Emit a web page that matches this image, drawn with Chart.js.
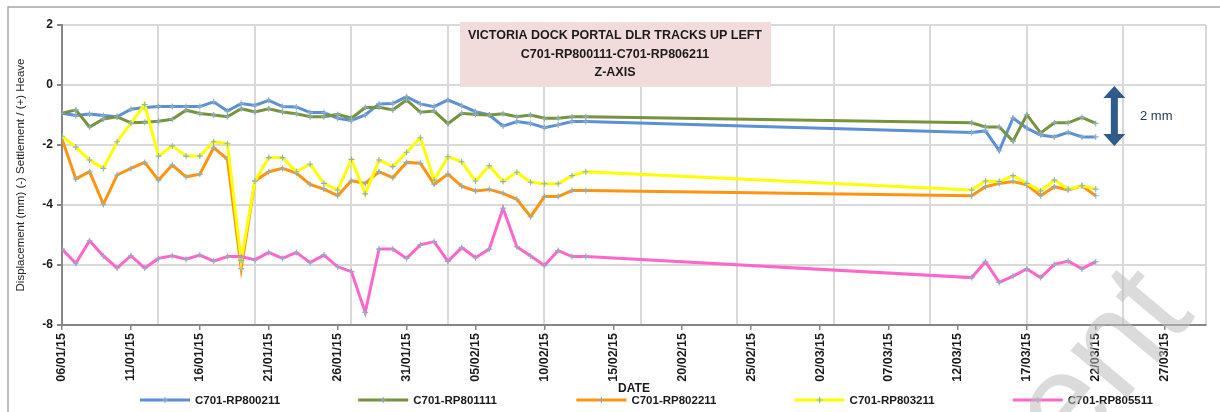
<!DOCTYPE html>
<html>
<head>
<meta charset="utf-8">
<script src="https://cdn.jsdelivr.net/npm/chart.js@4.4.1/dist/chart.umd.min.js"></script>
<style>
html, body { margin: 0; padding: 0; background: #fff; }
#wrap { width: 1220px; height: 412px; }
</style>
</head>
<body>
<div id="wrap"><canvas id="chart" width="1220" height="412"></canvas></div>
<script>
// survey dates (dd/mm/yy)
const dates = [
    '06/01/15', '07/01/15', '08/01/15', '09/01/15', '10/01/15', '11/01/15', '12/01/15', '13/01/15',
    '14/01/15', '15/01/15', '16/01/15', '17/01/15', '18/01/15', '19/01/15', '20/01/15', '21/01/15',
    '22/01/15', '23/01/15', '24/01/15', '25/01/15', '26/01/15', '27/01/15', '28/01/15', '29/01/15',
    '30/01/15', '31/01/15', '01/02/15', '02/02/15', '03/02/15', '04/02/15', '05/02/15', '06/02/15',
    '07/02/15', '08/02/15', '09/02/15', '10/02/15', '11/02/15', '12/02/15', '13/02/15',
    '13/03/15', '14/03/15', '15/03/15', '16/03/15', '17/03/15', '18/03/15', '19/03/15', '20/03/15',
    '21/03/15', '22/03/15',
];

const seriesNames = ['C701-RP800211', 'C701-RP801111', 'C701-RP802211', 'C701-RP803211', 'C701-RP805511'];
const seriesColors = ['#5b8fd6', '#77933c', '#ff9410', '#ffff00', '#ff66cc'];

const rp800211 = [
    -0.94, -1.02, -0.97, -1.02, -1.06, -0.81, -0.75, -0.72, -0.72, -0.72, -0.72, -0.56, -0.87,
    -0.62, -0.68, -0.51, -0.72, -0.73, -0.92, -0.92, -1.11, -1.18, -1.0, -0.63, -0.62, -0.39,
    -0.63, -0.72, -0.5, -0.69, -0.89, -1.0, -1.37, -1.22, -1.28, -1.42, -1.33, -1.22, -1.22,
    -1.58, -1.53, -2.19, -1.1, -1.44, -1.67, -1.73, -1.58, -1.73, -1.73,
];
const rp801111 = [
    -0.94, -0.83, -1.4, -1.13, -1.06, -1.26, -1.24, -1.21, -1.14, -0.84, -0.95, -1.0, -1.06,
    -0.79, -0.9, -0.79, -0.9, -0.96, -1.06, -1.06, -0.98, -1.11, -0.75, -0.74, -0.83, -0.5,
    -0.91, -0.87, -1.29, -0.94, -0.98, -1.0, -0.96, -1.06, -1.0, -1.11, -1.11, -1.06, -1.06,
    -1.26, -1.4, -1.4, -1.87, -0.99, -1.6, -1.26, -1.26, -1.08, -1.28,
];
const rp802211 = [
    -1.8, -3.13, -2.89, -3.97, -3.0, -2.78, -2.58, -3.17, -2.67, -3.06, -2.97, -2.09, -2.47,
    -6.12, -3.2, -2.89, -2.78, -2.94, -3.31, -3.47, -3.69, -3.19, -3.28, -2.89, -3.09, -2.58,
    -2.61, -3.31, -2.97, -3.37, -3.53, -3.48, -3.61, -3.81, -4.39, -3.72, -3.72, -3.52, -3.52,
    -3.69, -3.39, -3.28, -3.22, -3.33, -3.69, -3.39, -3.5, -3.36, -3.69,
];
const rp803211 = [
    -1.71, -2.07, -2.5, -2.78, -1.89, -1.27, -0.65, -2.37, -2.03, -2.37, -2.37, -1.89, -1.96,
    -5.85, -3.2, -2.42, -2.42, -2.89, -2.64, -3.28, -3.5, -2.48, -3.63, -2.5, -2.72, -2.24,
    -1.76, -3.17, -2.39, -2.56, -3.2, -2.69, -3.22, -2.91, -3.24, -3.29, -3.29, -3.02, -2.89,
    -3.5, -3.2, -3.22, -3.02, -3.28, -3.53, -3.17, -3.47, -3.36, -3.47,
];
const rp805511 = [
    -5.47, -5.94, -5.19, -5.7, -6.1, -5.69, -6.1, -5.78, -5.69, -5.81, -5.67, -5.87, -5.72,
    -5.72, -5.83, -5.58, -5.78, -5.58, -5.92, -5.67, -6.06, -6.22, -7.58, -5.47, -5.47, -5.78,
    -5.33, -5.22, -5.88, -5.42, -5.76, -5.47, -4.11, -5.39, -5.7, -6.02, -5.52, -5.72, -5.72,
    -6.42, -5.89, -6.58, -6.37, -6.13, -6.42, -5.98, -5.87, -6.13, -5.89,
];
const seriesValues = [rp800211, rp801111, rp802211, rp803211, rp805511];

const yTicks = [-8, -6, -4, -2, 0, 2];
const axisStart = '06/01/15';
const axisEnd = '30/03/15';
const labelEvery = 5;   // days between date labels
const gridEvery = 7;    // days between vertical gridlines

const titleLines = ['VICTORIA DOCK PORTAL DLR TRACKS UP LEFT', 'C701-RP800111-C701-RP806211', 'Z-AXIS'];
const yTitle = 'Displacement (mm) (-) Settlement / (+) Heave';
const xTitle = 'DATE';
const arrowLabel = '2 mm';

const DAY = 86400000;

function parseDate(s) {
    const [d, m, y] = s.split('/').map(Number);
    return Date.UTC(2000 + y, m - 1, d);
}

const base = parseDate(axisStart);
const dayOf = (s) => Math.round((parseDate(s) - base) / DAY);
const maxDay = dayOf(axisEnd);

function fmtDay(v) {
    const dt = new Date(base + v * DAY);
    const dd = String(dt.getUTCDate()).padStart(2, '0');
    const mm = String(dt.getUTCMonth() + 1).padStart(2, '0');
    const yy = String(dt.getUTCFullYear() % 100).padStart(2, '0');
    return dd + '/' + mm + '/' + yy;
}

const FONT = "'Liberation Sans', Arial, sans-serif";

const decorPlugin = {
    id: 'decor',
    beforeDraw(chart) {
        const ctx = chart.ctx;
        ctx.save();
        ctx.fillStyle = '#ffffff';
        ctx.fillRect(0, 0, chart.width, chart.height);
        ctx.strokeStyle = '#a6a6a6';
        ctx.lineWidth = 1.5;
        ctx.strokeRect(8, 7, chart.width + 20, chart.height + 20);
        ctx.restore();
    },
    afterDraw(chart) {
        const ctx = chart.ctx;
        const xs = chart.scales.x;
        const ys = chart.scales.y;
        ctx.save();

        // title box
        ctx.fillStyle = '#f2dcdb';
        ctx.fillRect(460, 22, 311, 65);
        ctx.fillStyle = '#1a1a1a';
        ctx.font = 'bold 12.5px ' + FONT;
        ctx.textAlign = 'center';
        ctx.textBaseline = 'middle';
        titleLines.forEach((t, i) => ctx.fillText(t, 615, 36 + i * 18.5));

        // 2 mm scale arrow
        const cx = xs.getPixelForValue(76.35);
        const top = ys.getPixelForValue(0) + 1;
        const bot = ys.getPixelForValue(-2) + 1;
        ctx.fillStyle = '#2f5b8a';
        ctx.beginPath();
        ctx.moveTo(cx, top);
        ctx.lineTo(cx + 11, top + 12);
        ctx.lineTo(cx + 3.5, top + 12);
        ctx.lineTo(cx + 3.5, bot - 12);
        ctx.lineTo(cx + 11, bot - 12);
        ctx.lineTo(cx, bot);
        ctx.lineTo(cx - 11, bot - 12);
        ctx.lineTo(cx - 3.5, bot - 12);
        ctx.lineTo(cx - 3.5, top + 12);
        ctx.lineTo(cx - 11, top + 12);
        ctx.closePath();
        ctx.fill();
        ctx.fillStyle = '#1f3556';
        ctx.font = '13px ' + FONT;
        ctx.textAlign = 'left';
        ctx.fillText(arrowLabel, 1140, (top + bot) / 2);

        // legend
        ctx.font = 'bold 11.5px ' + FONT;
        chart.data.datasets.forEach((ds, i) => {
            const tx = 195 + i * 218.2;
            const x0 = tx - 55;
            const y = 400;
            ctx.strokeStyle = ds.borderColor;
            ctx.lineWidth = 3;
            ctx.beginPath();
            ctx.moveTo(x0, y);
            ctx.lineTo(x0 + 50, y);
            ctx.stroke();
            ctx.strokeStyle = ds.pointBorderColor;
            ctx.lineWidth = 1.2;
            ctx.beginPath();
            ctx.moveTo(x0 + 25 - 3, y);
            ctx.lineTo(x0 + 25 + 3, y);
            ctx.moveTo(x0 + 25, y - 3);
            ctx.lineTo(x0 + 25, y + 3);
            ctx.stroke();
            ctx.fillStyle = '#1a1a1a';
            ctx.fillText(ds.label, tx, y + 1);
        });

        // faint watermark
        ctx.translate(1196, 316);
        ctx.rotate(-50 * Math.PI / 180);
        ctx.fillStyle = 'rgba(190, 190, 190, 0.55)';
        ctx.font = '140px ' + FONT;
        ctx.textAlign = 'right';
        ctx.textBaseline = 'alphabetic';
        ctx.fillText('Document', 0, 0);
        ctx.restore();
    },
};

const datasets = seriesNames.map((name, i) => ({
    label: name,
    data: dates.map((d, k) => ({ x: dayOf(d), y: seriesValues[i][k] })),
    borderColor: seriesColors[i],
    backgroundColor: seriesColors[i],
    borderWidth: 3,
    tension: 0,
    pointStyle: 'cross',
    pointRadius: 3,
    pointBorderWidth: 1.1,
    pointBorderColor: '#8cb0c2',
    order: seriesNames.length - i,
}));

const ctx = document.getElementById('chart').getContext('2d');
new Chart(ctx, {
    type: 'line',
    data: { datasets },
    plugins: [decorPlugin],
    options: {
        responsive: false,
        animation: false,
        devicePixelRatio: 1,
        layout: { padding: { left: 9, right: 14, top: 25, bottom: 0 } },
        plugins: {
            legend: { display: false },
            tooltip: { enabled: false },
        },
        scales: {
            xg: {
                type: 'linear',
                position: 'bottom',
                min: 0,
                max: maxDay,
                afterBuildTicks: (s) => {
                    const t = [];
                    for (let v = gridEvery; v < maxDay; v += gridEvery) t.push({ value: v });
                    t.push({ value: maxDay });
                    s.ticks = t;
                },
                afterFit: (s) => { s.height = 0; },
                ticks: { display: false },
                grid: { color: '#d9d9d9', lineWidth: 2, drawTicks: false },
                border: { display: false },
            },
            x: {
                type: 'linear',
                position: 'bottom',
                min: 0,
                max: maxDay,
                afterBuildTicks: (s) => {
                    const t = [];
                    for (let v = 0; v <= maxDay; v += labelEvery) t.push({ value: v });
                    s.ticks = t;
                },
                afterFit: (s) => { s.height = 87; },
                ticks: {
                    autoSkip: false,
                    maxRotation: 90,
                    minRotation: 90,
                    padding: 3,
                    color: '#1a1a1a',
                    font: { family: FONT, size: 12.5, weight: 'bold' },
                    callback: (v) => fmtDay(v),
                },
                grid: { drawOnChartArea: false, drawTicks: true, tickLength: 5, color: '#868686', lineWidth: 1.5 },
                border: { color: '#868686', width: 2 },
                title: {
                    display: true,
                    text: xTitle,
                    color: '#1a1a1a',
                    font: { family: FONT, size: 12, weight: 'bold' },
                    padding: { top: 0, bottom: 16 },
                },
            },
            y: {
                min: -8,
                max: 2,
                afterBuildTicks: (s) => { s.ticks = yTicks.map((v) => ({ value: v })); },
                afterFit: (s) => { s.width = 53; },
                ticks: {
                    padding: 4,
                    color: '#1a1a1a',
                    font: { family: FONT, size: 12, weight: 'bold' },
                },
                grid: { color: '#d9d9d9', lineWidth: 2, tickLength: 5, tickColor: '#868686' },
                border: { color: '#868686', width: 2 },
                title: {
                    display: true,
                    text: yTitle,
                    color: '#262626',
                    font: { family: FONT, size: 11.5 },
                    padding: { top: 5, bottom: 0 },
                },
            },
        },
    },
});
</script>
</body>
</html>
